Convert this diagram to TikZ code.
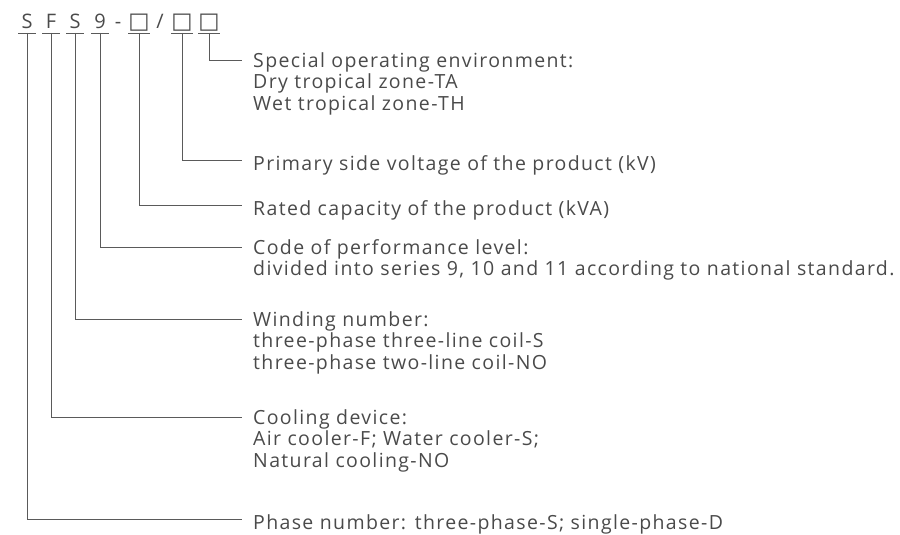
\documentclass[tikz,border=0pt]{standalone}
\usepackage{fontspec}
\setmainfont{Open Sans}
\newfontfamily\descfont{Open Sans}[LetterSpace=7]
\newfontfamily\symfont{DejaVu Sans}
\usetikzlibrary{positioning}
\definecolor{txtgray}{HTML}{4A4A4A}
\definecolor{linegray}{HTML}{5A5A5A}
\newcommand{\blank}{{\symfont\fontsize{22.5}{22.5}\selectfont □}}
\tikzset{
  code/.style ={text=txtgray, font=\fontsize{20}{24}\selectfont, inner sep=0pt,
                minimum width=17pt, text height=16pt, text depth=4pt, anchor=south},
  uline/.style={draw=linegray, line width=0.9pt},
  lead/.style ={draw=linegray, line width=0.9pt},
  desc/.style ={text=txtgray, font=\descfont\fontsize{19.5}{21.5}\selectfont, inner sep=0pt,
                anchor=north west, align=left,
                execute at begin node={\rule{0pt}{18pt}}},
}

\begin{document}
\begin{tikzpicture}[x=1pt, y=-1pt, line cap=butt, line join=miter]
  \useasboundingbox (0,0) rectangle (900,535);

  %--- Model code (underline sits at y=33) ---
  \node[code] (cS)  at (27,33)  {S};
  \node[code] (cF)  at (51,33)  {F};
  \node[code] (cW)  at (75,33)  {S};
  \node[code] (cN)  at (100,33) {9};
  \node[code] (dash) at (118,33) {-};
  \node[code] (cR)  at (139,33) {\blank};
  \node[code] (sl)  at (160,33) {/};
  \node[code] (cV)  at (182,33) {\blank};
  \node[code] (cE)  at (209,33) {\blank};

  \foreach \c in {cS,cF,cW,cN,cR,cV,cE}
    \draw[uline] (\c.south west) -- (\c.south east);

  %--- Ends of the leaders, next to the texts ---
  \coordinate (eE) at (242,60);
  \coordinate (eV) at (242,160);
  \coordinate (eR) at (242,205);
  \coordinate (eN) at (242,247);
  \coordinate (eW) at (242,319);
  \coordinate (eF) at (242,417);
  \coordinate (eS) at (242,519);

  %--- Descriptions ---
  \node[desc] (tE) at ([xshift=11pt,yshift=8pt]eE)
    {Special operating environment:\\Dry tropical zone-TA\\Wet tropical zone-TH};
  \node[desc] (tV) at ([xshift=11pt,yshift=8pt]eV)
    {Primary side voltage of the product (kV)};
  \node[desc] (tR) at ([xshift=11pt,yshift=8pt]eR)
    {Rated capacity of the product (kVA)};
  \node[desc] (tN) at ([xshift=11pt,yshift=8pt]eN)
    {Code of performance level:\\divided into series 9, 10 and 11 according to national standard.};
  \node[desc] (tW) at ([xshift=11pt,yshift=8pt]eW)
    {Winding number:\\three-phase three-line coil-S\\three-phase two-line coil-NO};
  \node[desc] (tF) at ([xshift=11pt,yshift=8pt]eF)
    {Cooling device:\\Air cooler-F; Water cooler-S;\\Natural cooling-NO};
  \node[desc] (tS) at ([xshift=11pt,yshift=8pt]eS)
    {Phase number: three-phase-S; single-phase-D};

  %--- Leaders ---
  \foreach \c in {S,F,W,N,R,V,E}
    \draw[lead] (c\c.south) |- (e\c);

\end{tikzpicture}
\end{document}
